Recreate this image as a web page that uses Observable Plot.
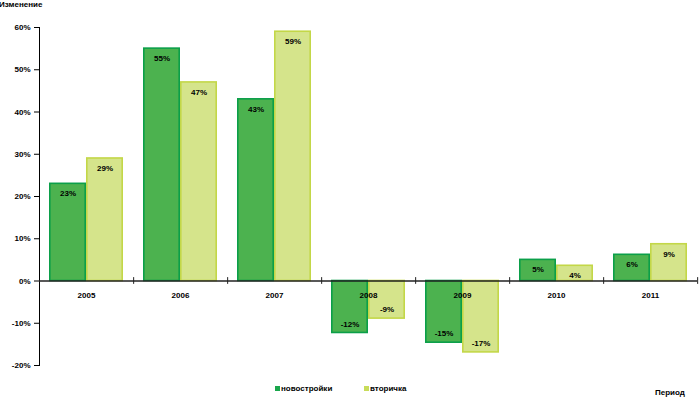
<!DOCTYPE html>
<html>
<head>
<meta charset="utf-8">
<script src="https://cdn.jsdelivr.net/npm/d3@7"></script>
<script src="https://cdn.jsdelivr.net/npm/@observablehq/plot@0.6"></script>
<style>
  html, body { margin: 0; padding: 0; background: #fff; }
  #wrap { position: relative; width: 700px; height: 398px; overflow: hidden;
          font-family: "Liberation Sans", Arial, sans-serif; font-size: 8px; font-weight: bold; color: #000; }
  #ytitle { position: absolute; left: -1px; top: 0px; line-height: 10px; }
  #chart { position: absolute; left: 0; top: 12px; }
  .leg { position: absolute; top: 384px; line-height: 10px; white-space: nowrap; }
  .sw { display: inline-block; width: 5px; height: 5px; margin-right: 1px; vertical-align: 0px; }
  #xtitle { position: absolute; left: 655px; top: 388px; line-height: 10px; }
</style>
</head>
<body>
<div id="wrap">
  <div id="ytitle">Изменение</div>
  <div id="chart"></div>
  <div id="legend"></div>
  <div id="xtitle">Период</div>
</div>
<script>
const years = [2005, 2006, 2007, 2008, 2009, 2010, 2011];
const seriesNames = ["новостройки", "вторичка"];
const newBuild = [23, 55, 43, -12.3, -14.6, 5, 6.2];
const resale = [29, 47, 59, -8.9, -16.9, 3.6, 8.7];
const yTicks = [-20, -10, 0, 10, 20, 30, 40, 50, 60];
const colors = ["#4cb24f", "#d5e48b"];
const strokes = ["#0b9f49", "#c3d748"];

const rows = years.flatMap((yr, i) => [
  {year: yr, type: seriesNames[0], value: newBuild[i]},
  {year: yr, type: seriesNames[1], value: resale[i]}
]);

const W = 700, H = 368, mL = 38, mR = 2, mT = 15, mB = 15;
const halfStep = (W - mL - mR) / years.length / 2;

const plot = Plot.plot({
  width: W, height: H,
  marginLeft: mL, marginRight: mR, marginTop: mT, marginBottom: mB,
  style: {fontFamily: "Liberation Sans, Arial, sans-serif", fontSize: "8px", fontWeight: "bold", color: "#000", background: "transparent"},
  fx: {domain: years, padding: 0, axis: null},
  x: {domain: seriesNames, paddingInner: 0, paddingOuter: 0.25, axis: null},
  y: {domain: [-20, 60], ticks: yTicks, tickFormat: d => d + "%", tickSize: 5, tickPadding: 4, label: null, line: true},
  color: {domain: seriesNames, range: colors},
  marks: [
    Plot.barY(rows, {fx: "year", x: "type", y: "value", fill: "type",
      stroke: d => strokes[seriesNames.indexOf(d.type)], strokeWidth: 1.6,
      insetLeft: 0.8, insetRight: 0.8}),
    Plot.ruleY([0], {stroke: "#222", strokeWidth: 1.3}),
    Plot.ruleX(years, {fx: d => d, x: null, y1: -0.8, y2: 0.8, dx: halfStep, stroke: "#222", strokeWidth: 1}),
    Plot.text(rows.filter(d => d.value >= 0), {fx: "year", x: "type", y: "value", text: d => Math.round(d.value) + "%", dy: 10, fill: "#000"}),
    Plot.text(rows.filter(d => d.value < 0), {fx: "year", x: "type", y: "value", text: d => Math.round(d.value) + "%", dy: -9, fill: "#000"}),
    Plot.text(years, {fx: d => d, y: () => 0, text: d => String(d), dy: 14, fill: "#000"})
  ]
});
document.getElementById("chart").appendChild(plot);

const legend = document.getElementById("legend");
const legX = [275, 364];
seriesNames.forEach((name, i) => {
  const el = document.createElement("div");
  el.className = "leg";
  el.style.left = legX[i] + "px";
  el.innerHTML = `<span class="sw" style="background:${colors[i] === "#4cb24f" ? "#1aa64c" : "#c8dc5a"}"></span>${name}`;
  legend.appendChild(el);
});
</script>
</body>
</html>
